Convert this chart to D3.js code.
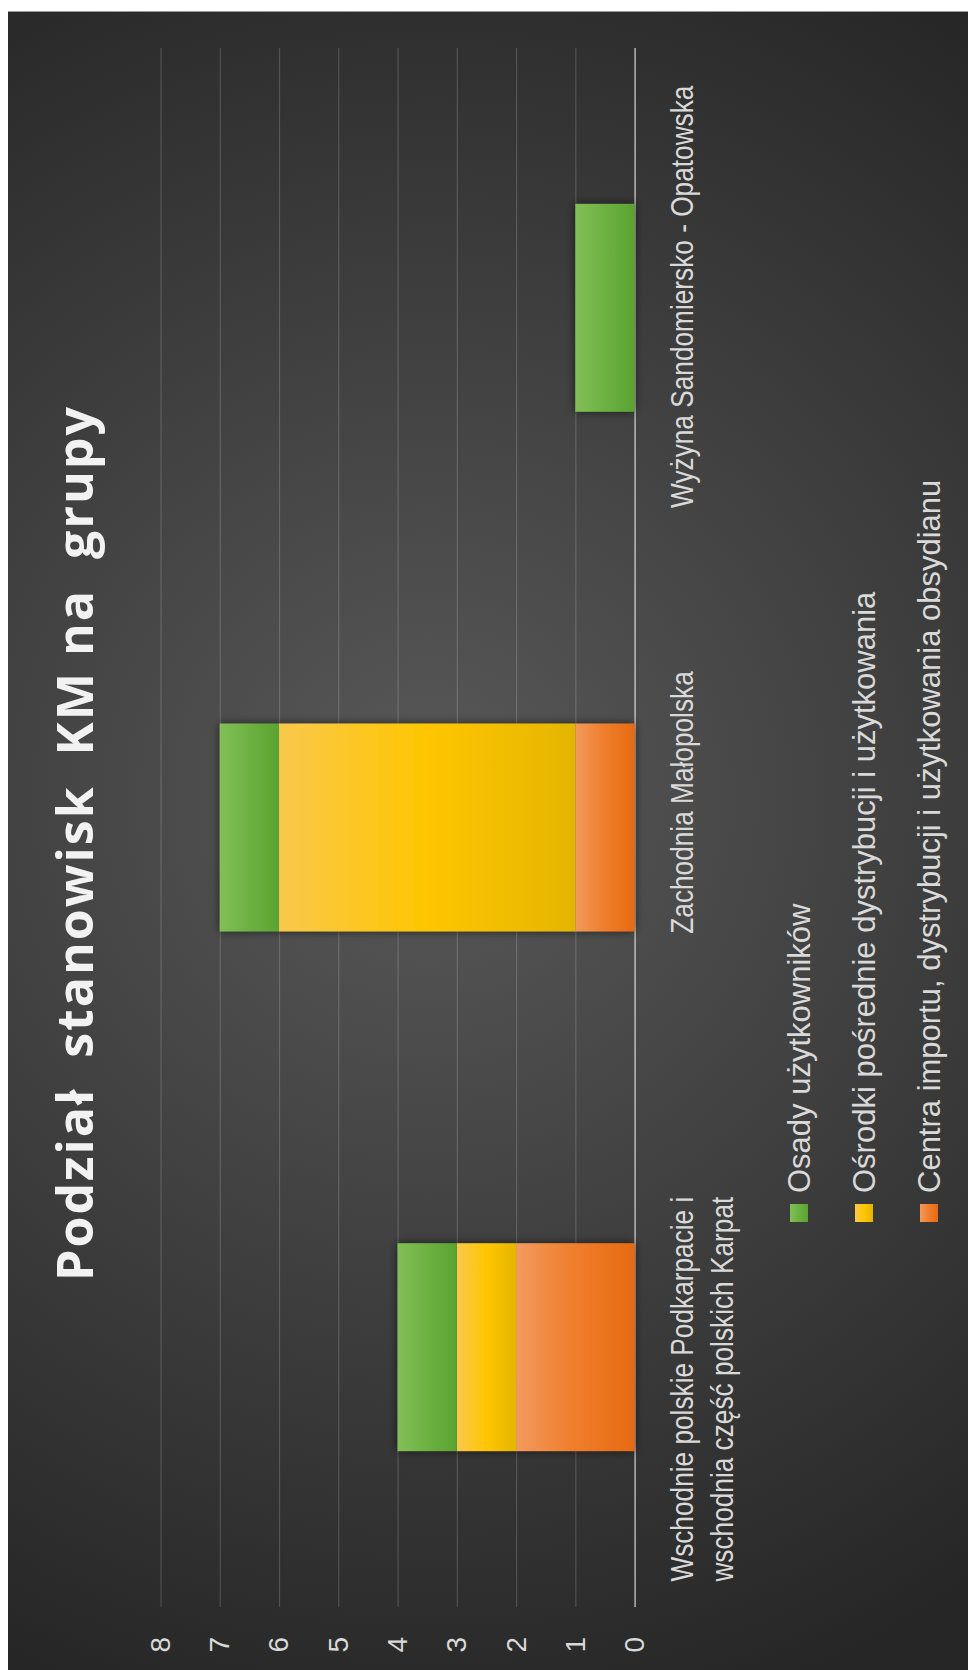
<!DOCTYPE html>
<html><head><meta charset="utf-8">
<script src="https://cdn.jsdelivr.net/npm/d3@7"></script>
<style>html,body{margin:0;padding:0;background:#fff;} svg{display:block;}</style>
</head><body>
<svg id="chart" width="968" height="1670"></svg>
<script>
// ---- data ----
const categories = ["Wschodnie polskie Podkarpacie i wschodnia część polskich Karpat", "Zachodnia Małopolska", "Wyżyna Sandomiersko - Opatowska"];
const categoryLabelLines = [["Wschodnie polskie Podkarpacie i", "wschodnia część polskich Karpat"], ["Zachodnia Małopolska"], ["Wyżyna Sandomiersko - Opatowska"]];
const seriesKeys = ["centra", "osrodki", "osady"]; // stack order, bottom to top
const seriesNames = {osady: "Osady użytkowników", osrodki: "Ośrodki pośrednie dystrybucji i użytkowania", centra: "Centra importu, dystrybucji i użytkowania obsydianu"};
const legendOrder = ["osady", "osrodki", "centra"];
const osady = [1, 1, 1];
const osrodki = [1, 5, 0];
const centra = [2, 1, 0];
const valueTicks = [0, 1, 2, 3, 4, 5, 6, 7, 8];
const titleText = "Podział  stanowisk  KM na  grupy";

// ---- layout ----
const PW = 968, PH = 1670;
const svg = d3.select("#chart");
const defs = svg.append("defs");

const bg = defs.append("radialGradient").attr("id", "bg").attr("gradientUnits", "userSpaceOnUse")
  .attr("cx", 430).attr("cy", 800).attr("r", 950);
bg.append("stop").attr("offset", 0).attr("stop-color", "#595959");
bg.append("stop").attr("offset", 1).attr("stop-color", "#262626");

const grads = {
  osady: ["#82bf57", "#6db142", "#5aa331"],
  osrodki: ["#f9c84c", "#ffc600", "#e4b500"],
  centra: ["#f29a5e", "#f07d2a", "#e66a12"]
};
Object.entries(grads).forEach(([k, c]) => {
  const lg = defs.append("linearGradient").attr("id", "g_" + k).attr("x1", 0).attr("y1", 0).attr("x2", 0).attr("y2", 1);
  lg.append("stop").attr("offset", 0).attr("stop-color", c[0]);
  lg.append("stop").attr("offset", 0.5).attr("stop-color", c[1]);
  lg.append("stop").attr("offset", 1).attr("stop-color", c[2]);
});
const f = defs.append("filter").attr("id", "shadow").attr("x", "-20%").attr("y", "-20%").attr("width", "140%").attr("height", "140%");
f.append("feDropShadow").attr("dx", 0).attr("dy", 0).attr("stdDeviation", 5).attr("flood-color", "#000").attr("flood-opacity", 0.6);

svg.append("rect").attr("x", 8).attr("y", 11).attr("width", PW - 8).attr("height", PH - 11).attr("fill", "url(#bg)");
svg.append("line").attr("x1", 8).attr("x2", PW).attr("y1", 11.5).attr("y2", 11.5).attr("stroke", "#9a9a9a");

// chart drawn unrotated (width PH, height PW) then rotated 90deg CCW
const g = svg.append("g").attr("transform", `translate(0,${PH}) rotate(-90)`);

const plotX0 = 63, plotX1 = 1622;
const x = d3.scaleBand().domain(categories).range([plotX0, plotX1]).paddingInner(0.6).paddingOuter(0.3);
const y = d3.scaleLinear().domain([0, 8]).range([634.6, 160.5]);

// value axis + gridlines
const ax = g.append("g").attr("transform", `translate(${plotX0},0)`)
  .call(d3.axisLeft(y).tickValues(valueTicks).tickSize(-(plotX1 - plotX0)).tickPadding(30).tickFormat(d3.format("d")));
ax.select(".domain").remove();
ax.selectAll(".tick line").attr("stroke", d => d === 0 ? "rgba(255,255,255,0.6)" : "rgba(255,255,255,0.17)")
  .attr("stroke-width", d => d === 0 ? 1.6 : 1.2);
ax.selectAll(".tick text").attr("fill", "#d9d9d9").style("font-family", "'Liberation Sans', Arial, sans-serif").style("font-size", "28px");

// bars
const rows = categories.map((c, i) => ({cat: c, centra: centra[i], osrodki: osrodki[i], osady: osady[i]}));
const stacked = d3.stack().keys(seriesKeys)(rows);
const catGroups = g.append("g").selectAll("g").data(categories).join("g").attr("filter", "url(#shadow)");
catGroups.selectAll("rect")
  .data((c, i) => stacked.map(s => ({key: s.key, cat: c, v0: s[i][0], v1: s[i][1]})).filter(d => d.v1 > d.v0))
  .join("rect")
  .attr("x", d => x(d.cat)).attr("width", x.bandwidth())
  .attr("y", d => y(d.v1)).attr("height", d => y(d.v0) - y(d.v1))
  .attr("fill", d => `url(#g_${d.key})`);

// category labels
const labelFont = "'Liberation Sans', Arial, sans-serif";
const labelShift = [-42, 25, 11];
const labelBase = 693, labelLH = 40, narrow = 0.82;
categories.forEach((c, i) => {
  const cx = x(c) + x.bandwidth() / 2 + labelShift[i];
  const lg = g.append("g").attr("transform", `translate(${cx},0) scale(${narrow},1)`);
  const texts = lg.selectAll("text").data(categoryLabelLines[i]).join("text")
    .attr("y", (d, j) => labelBase + j * labelLH)
    .attr("fill", "#d9d9d9").style("font-family", labelFont).style("font-size", "32px")
    .text(d => d);
  let w = 0; texts.each(function () { w = Math.max(w, this.getComputedTextLength()); });
  texts.attr("x", -w / 2);
});

// legend
const legend = g.append("g").selectAll("g").data(legendOrder).join("g")
  .attr("transform", (d, i) => `translate(448,${799 + i * 65})`);
legend.append("rect").attr("x", 0).attr("y", -9).attr("width", 18).attr("height", 18).attr("fill", d => `url(#g_${d})`);
legend.append("text").attr("x", 29).attr("dy", "0.35em").attr("fill", "#d9d9d9")
  .style("font-family", labelFont).style("font-size", "31px").text(d => seriesNames[d]);

// title
g.append("text").attr("x", 827).attr("y", 93).attr("text-anchor", "middle")
  .attr("fill", "#f2f2f2").style("font-family", "'Open Sans', sans-serif").style("font-weight", "bold")
  .style("font-size", "50px").style("letter-spacing", "2px").style("white-space", "pre").text(titleText);
</script>
</body></html>
